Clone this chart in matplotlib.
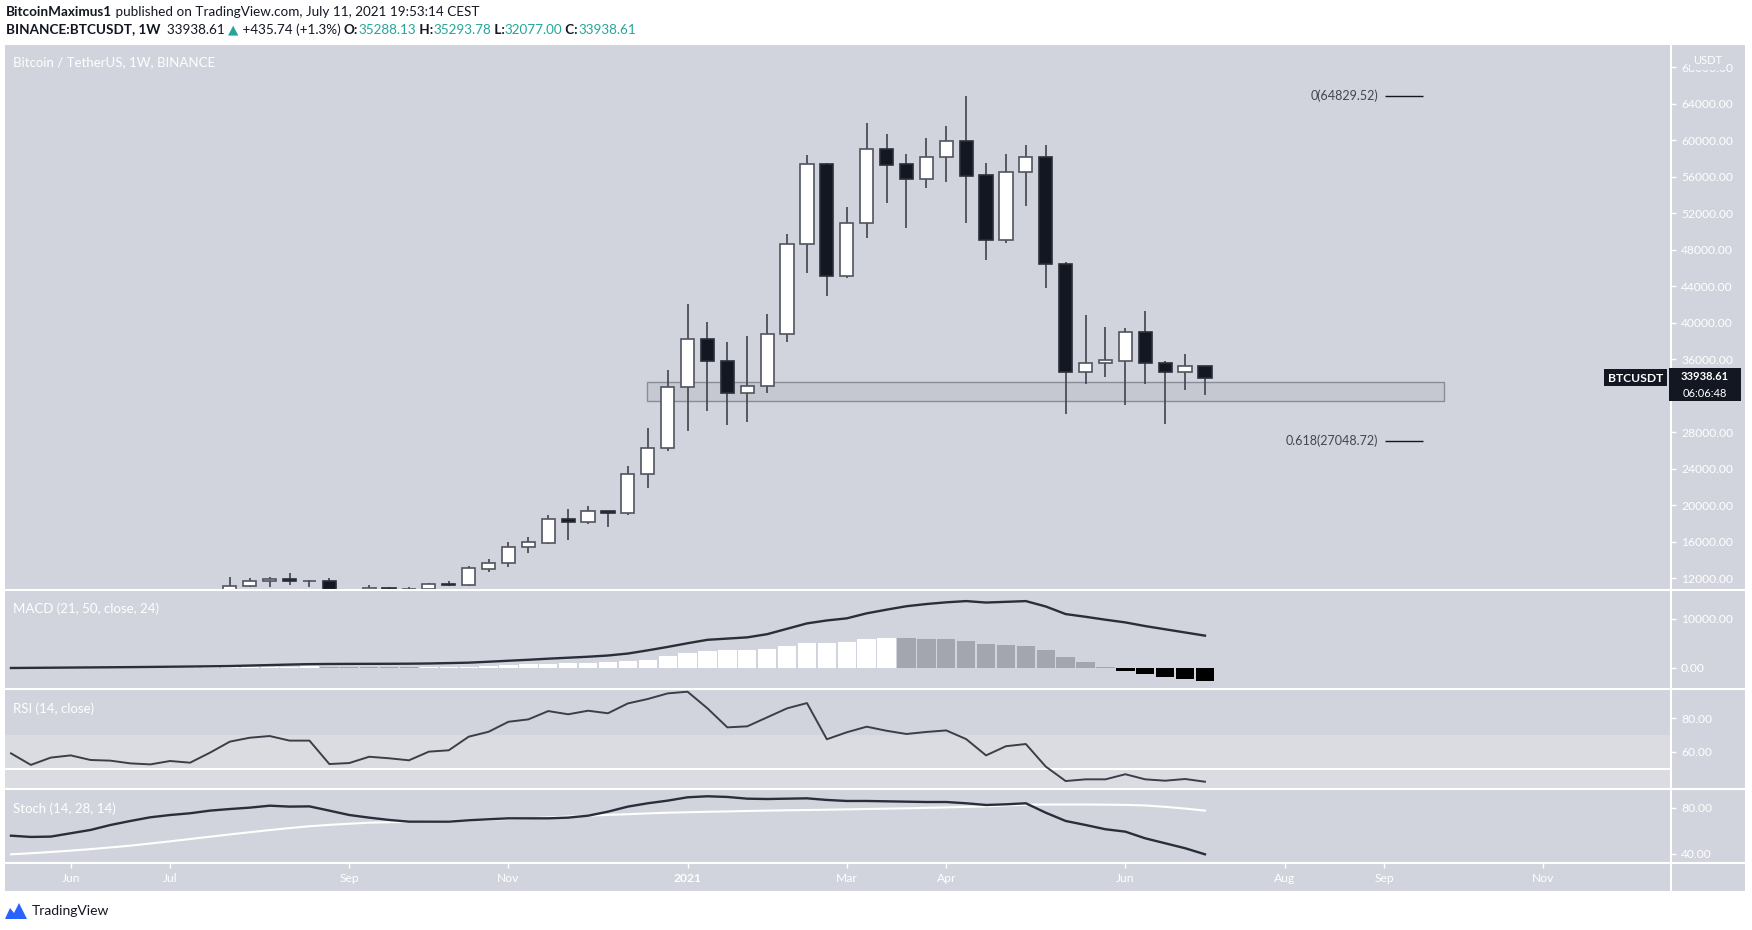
import matplotlib
matplotlib.use("Agg")
import matplotlib.pyplot as plt
from matplotlib.patches import Rectangle, Polygon
from matplotlib.lines import Line2D

W, H = 1752, 930
BG = "#d1d4dc"
DARK = "#131722"
FONT = ["Lato", "DejaVu Sans"]
plt.rcParams["font.family"] = FONT

# weekly candles, index 0 = week of 2020-06-01
candle_idx = list(range(8, 58))
opens = [9930, 11120, 11740, 11900, 11680, 11720, 10250, 10330, 10900, 10770,
         10790, 11390, 11300, 13020, 13700, 15460, 15900, 18460, 18200, 19400,
         19120, 23420, 26240, 32990, 38220, 35810, 32270, 33100, 38770, 48600,
         57370, 45130, 50970, 59010, 57370, 55760, 58170, 59960, 56160, 49040,
         56490, 58170, 46470, 34640, 35560, 35840, 39020, 35590, 34640, 35288.13]
highs = [12150, 11990, 12120, 12530, 11800, 12080, 10780, 11250, 11080, 11010,
         11510, 11730, 13370, 14110, 16000, 16490, 18930, 19560, 19920, 19420,
         24300, 28430, 34820, 42020, 40120, 37860, 38550, 40930, 49730, 58350,
         57480, 52650, 61860, 60690, 58460, 60220, 61570, 64850, 57480, 58460,
         59480, 59480, 46690, 40850, 39500, 39390, 41290, 35780, 36580, 35293.78]
lows = [9900, 11010, 11080, 11210, 11080, 9830, 9880, 10200, 10140, 10380,
        10520, 11150, 11200, 12720, 13200, 14730, 15750, 16190, 17940, 17580,
        18930, 21860, 25900, 28140, 30330, 28790, 29160, 32270, 37920, 45490,
        42970, 44870, 49260, 53160, 50350, 54740, 55400, 50900, 46880, 48710,
        52800, 43840, 30000, 33290, 34090, 30950, 33320, 28870, 32600, 32077.00]
closes = [11120, 11720, 11960, 11700, 11720, 10250, 10330, 10900, 10770, 10790,
          11360, 11290, 13080, 13700, 15460, 16000, 18460, 18200, 19400, 19180,
          23420, 26240, 32990, 38220, 35810, 32270, 33100, 38770, 48600, 57370,
          45130, 50970, 59010, 57290, 55760, 58170, 59960, 56120, 49040, 56520,
          58170, 46470, 34640, 35620, 35880, 39020, 35590, 34640, 35260, 33938.61]

# indicators, index -3 .. 57
ind_idx = list(range(-3, 58))
macd_hist = [-90, -60, 20, 40, 60, 80, 100, 120, 140, 160, 190, 220, 250, 280, 300, 320,
             290, 250, 200, 150, 120, 140, 160, 280, 410, 550, 750, 890, 1090, 1110,
             1290, 1500, 1700, 2450, 3130, 3470, 3600, 3620, 3810, 4490, 5170, 5180,
             5370, 5850, 6050, 6030, 6010, 5990, 5510, 4900, 4620, 4420, 3600, 2310,
             1160, 200, -550, -1220, -1900, -2300, -2710]
macd_line = [0, 30, 60, 90, 120, 150, 180, 220, 260, 300, 350, 400, 500, 600, 700, 790,
             820, 840, 850, 860, 880, 920, 1000, 1090, 1280, 1480, 1680, 1900, 2100, 2300,
             2550, 2950, 3600, 4300, 5050, 5750, 6000, 6250, 6900, 8000, 9100, 9700,
             10130, 11150, 11900, 12600, 13050, 13400, 13650, 13350, 13500, 13650, 12550,
             11000, 10450, 9850, 9300, 8550, 7900, 7250, 6600]
rsi = [59.2, 52.4, 56.7, 58.0, 55.3, 54.9, 53.3, 52.7, 54.7, 53.7, 59.6, 66.1, 68.4,
       69.4, 66.7, 66.7, 52.9, 53.5, 57.2, 56.3, 55.1, 60.2, 61.0, 69.0, 71.9, 77.8,
       79.2, 84.1, 82.2, 84.3, 82.8, 88.6, 91.2, 94.5, 95.5, 85.7, 74.5, 75.1, 80.4,
       85.7, 88.8, 67.5, 71.6, 74.9, 72.5, 70.6, 71.8, 72.7, 67.6, 58.0, 63.4, 64.7,
       51.4, 42.9, 43.9, 43.9, 46.9, 43.9, 43.1, 44.1, 42.5]
stoch_k = [55.9, 54.8, 55.1, 58.0, 60.9, 65.2, 68.7, 71.9, 73.9, 75.4, 77.7, 79.1,
           80.3, 82.0, 81.2, 81.4, 77.7, 73.9, 71.6, 69.6, 68.1, 68.1, 68.1, 69.3,
           70.2, 71.0, 71.0, 71.0, 71.6, 73.3, 76.8, 81.2, 84.1, 86.4, 89.3, 90.2,
           89.6, 88.1, 87.8, 88.1, 88.4, 87.0, 86.1, 86.1, 85.8, 85.5, 85.2, 85.2,
           84.1, 82.6, 83.2, 84.1, 75.9, 68.7, 65.2, 61.5, 59.4, 53.6, 49.3, 45.0, 39.7]
stoch_d = [39.7, 40.6, 41.7, 42.9, 44.2, 45.7, 47.2, 49.1, 51.0, 53.0, 55.0, 57.0,
           58.9, 60.8, 62.5, 64.1, 65.3, 66.3, 67.2, 67.6, 67.9, 68.1, 68.6, 69.2,
           69.8, 70.4, 71.1, 71.8, 72.6, 73.3, 74.0, 74.6, 75.3, 75.9, 76.3, 76.7,
           77.0, 77.4, 77.7, 78.0, 78.2, 78.5, 78.8, 79.1, 79.4, 79.7, 80.1, 80.5,
           81.0, 81.4, 82.2, 82.9, 83.0, 83.0, 83.0, 82.9, 82.7, 82.2, 81.0, 79.5, 77.7]

time_ticks = [0, 5, 14, 22, 31, 39, 44, 53, 61, 66, 74]
time_labels = ["Jun", "Jul", "Sep", "Nov", "2021", "Mar", "Apr", "Jun", "Aug", "Sep", "Nov"]
# 32000 sits under the last-price label, so the scale leaves it out
price_ticks = [12000, 16000, 20000, 24000, 28000, 36000, 40000, 44000, 48000,
               52000, 56000, 60000, 64000, 68000]

zone_lo, zone_hi = 31458, 33474
fib_levels = [64829.52, 27048.72]
fib_names = ["0(64829.52)", "0.618(27048.72)"]


def fx(x):
    return x / W


def fy(y):
    return 1 - y / H


fig = plt.figure(figsize=(W / 100, H / 100), dpi=100, facecolor="white")
fig.patches.append(Rectangle((fx(5), fy(890.5)), fx(1745) - fx(5), fy(44.7) - fy(890.5),
                             transform=fig.transFigure, facecolor=BG, edgecolor="none", zorder=-10))

L, R = 5, 1670


def pane(top, bottom):
    ax = fig.add_axes([fx(L), fy(bottom), fx(R) - fx(L), fy(top) - fy(bottom)])
    ax.set_facecolor("none")
    for s in ax.spines.values():
        s.set_visible(False)
    ax.set_xlim(-3.3, 80.37)
    ax.yaxis.tick_right()
    ax.tick_params(axis="y", colors="white", length=4, width=1, pad=4, labelsize=8.7)
    ax.tick_params(axis="x", bottom=False, labelbottom=False)
    return ax


# price pane
ax_p = pane(44.7, 589)
ax_p.set_ylim(10820, 70476)
ax_p.set_yticks(price_ticks)
ax_p.set_yticklabels([f"{v:.2f}" for v in price_ticks])

ax_p.add_patch(Rectangle((28.98, zone_lo), 69.0 - 28.98, zone_hi - zone_lo,
                         facecolor="#c5c8d0", edgecolor="#8a8d96", lw=1, zorder=1))

bottoms, heights, fills, edges = [], [], [], []
for o, c in zip(opens, closes):
    bottoms.append(min(o, c))
    heights.append(max(abs(c - o), 70))
    fills.append("white" if c >= o else DARK)
    edges.append("#50545e" if c >= o else "#2a2e39")
ax_p.vlines(candle_idx, lows, highs, color="#4a4e59", lw=1.3, zorder=2)
ax_p.bar(candle_idx, heights, bottom=bottoms, width=0.66, color=fills,
         edgecolor=edges, linewidth=1.2, zorder=3)

for lv, name in zip(fib_levels, fib_names):
    ax_p.hlines(lv, 66.05, 67.96, color=DARK, lw=1)
    ax_p.text(65.7, lv, name, ha="right", va="center", color="#434651", fontsize=9)

ax_p.text(0.0048, 0.968, "Bitcoin / TetherUS, 1W, BINANCE", transform=ax_p.transAxes,
          color="white", fontsize=9.5, va="center")

# MACD pane
ax_m = pane(590, 688)
ax_m.set_ylim(-4080, 15912)
ax_m.set_yticks([0, 10000])
ax_m.set_yticklabels(["0.00", "10000.00"])
hist_colors = []
prev = None
for v in macd_hist:
    if v < 0:
        hist_colors.append("black")
    elif prev is None or v >= prev:
        hist_colors.append("white")
    else:
        hist_colors.append("#a3a6ae")
    prev = v
ax_m.bar(ind_idx, macd_hist, width=0.92, color=hist_colors, zorder=2)
ax_m.plot(ind_idx, macd_line, color="#2a2e39", lw=1.7, zorder=3)
ax_m.text(0.0048, 0.81, "MACD (21, 50, close, 24)", transform=ax_m.transAxes,
          color="white", fontsize=9.5, va="center")

# RSI pane
ax_r = pane(690, 788)
ax_r.set_ylim(38.8, 96.5)
ax_r.set_yticks([60, 80])
ax_r.set_yticklabels(["60.00", "80.00"])
ax_r.axhspan(30, 70, color="#dadce2", lw=0, zorder=1)
ax_r.axhline(50, color="white", lw=1.5, zorder=2)
ax_r.plot(ind_idx, rsi, color="#3a3e48", lw=1.4, zorder=3)
ax_r.text(0.0048, 0.81, "RSI (14, close)", transform=ax_r.transAxes,
          color="white", fontsize=9.5, va="center")

# Stoch pane
ax_s = pane(790, 862)
ax_s.set_ylim(33.0, 95.65)
ax_s.set_yticks([40, 80])
ax_s.set_yticklabels(["40.00", "80.00"])
ax_s.plot(ind_idx, stoch_d, color="white", lw=1.5, zorder=2)
ax_s.plot(ind_idx, stoch_k, color="#2a2e39", lw=1.7, zorder=3)
ax_s.text(0.0048, 0.74, "Stoch (14, 28, 14)", transform=ax_s.transAxes,
          color="white", fontsize=9.5, va="center")
ax_s.set_xticks(time_ticks)
ax_s.set_xticklabels(time_labels)
ax_s.tick_params(axis="x", bottom=True, labelbottom=True, colors="white",
                 length=4, width=1, pad=4, labelsize=8.7)
for lab in ax_s.get_xticklabels():
    if lab.get_text() == "2021":
        lab.set_fontweight("bold")

# separators
for yy in [589.5, 689, 789, 863]:
    fig.add_artist(Line2D([fx(5), fx(1745)], [fy(yy), fy(yy)], color="white", lw=1.5,
                          transform=fig.transFigure, zorder=5))
fig.add_artist(Line2D([fx(1670.5), fx(1670.5)], [fy(44.7), fy(890.5)], color="white",
                      lw=1.5, transform=fig.transFigure, zorder=5))

# labels on price scale
fig.text(fx(1708), fy(61), "USDT", color="white", fontsize=8, ha="center", va="center",
         bbox=dict(facecolor=BG, edgecolor="none", pad=2.2), zorder=6)
fig.patches.append(Rectangle((fx(1669), fy(401.5)), fx(1741) - fx(1669), fy(368.5) - fy(401.5),
                             transform=fig.transFigure, facecolor=DARK, edgecolor="none", zorder=6))
fig.text(fx(1705), fy(376.5), "33938.61", color="white", fontsize=8, fontweight="bold",
         ha="center", va="center", zorder=7)
fig.text(fx(1705), fy(393.5), "06:06:48", color="white", fontsize=8,
         ha="center", va="center", zorder=7)
fig.patches.append(Rectangle((fx(1604), fy(386.5)), fx(1667) - fx(1604), fy(369.5) - fy(386.5),
                             transform=fig.transFigure, facecolor=DARK, edgecolor="none", zorder=6))
fig.text(fx(1635.5), fy(378), "BTCUSDT", color="white", fontsize=8.7, fontweight="bold",
         ha="center", va="center", zorder=7)

# header
renderer = fig.canvas.get_renderer()


def run_text(x, y, parts, size):
    for s, color, weight in parts:
        t = fig.text(fx(x), fy(y), s, color=color, fontsize=size, fontweight=weight,
                     ha="left", va="center")
        x += t.get_window_extent(renderer=renderer).width


TEAL = "#26a69a"
run_text(5.6, 11.5, [("BitcoinMaximus1", DARK, "bold"),
                     (" published on TradingView.com, July 11, 2021 19:53:14 CEST", DARK, "normal")], 9.7)
run_text(5.6, 29.5, [("BINANCE:BTCUSDT, 1W", DARK, "bold"), ("  33938.61 ", DARK, "normal"),
                     ("▲", TEAL, "normal"), (" +435.74 (+1.3%) ", DARK, "normal"),
                     ("O:", DARK, "bold"), ("35288.13", TEAL, "normal"),
                     (" H:", DARK, "bold"), ("35293.78", TEAL, "normal"),
                     (" L:", DARK, "bold"), ("32077.00", TEAL, "normal"),
                     (" C:", DARK, "bold"), ("33938.61", TEAL, "normal")], 9.7)

# footer
fig.patches.append(Polygon([(fx(5), fy(919)), (fx(10), fy(908)), (fx(14), fy(913)),
                            (fx(19), fy(903)), (fx(27), fy(919))], closed=True,
                           transform=fig.transFigure, facecolor="#2962ff", edgecolor="none"))
fig.text(fx(32), fy(911), "TradingView", color=DARK, fontsize=10, ha="left", va="center")

fig.savefig("out.png", dpi=100, facecolor="white")
